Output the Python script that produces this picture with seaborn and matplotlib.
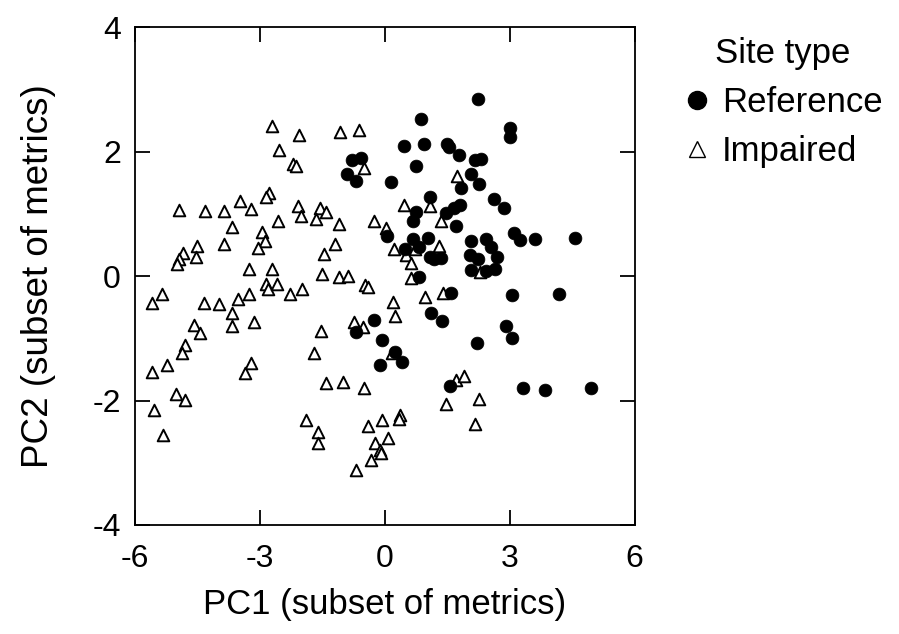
import seaborn as sns
import matplotlib.pyplot as plt
import pandas as pd
from matplotlib.lines import Line2D

# PC scores
ref_pc1 = [-0.78, -0.58, -0.90, -0.68, 0.14, 0.06, 2.24, 0.86, 3.01, 3.01,
           0.46, 0.94, 1.50, 1.54, 1.78, 2.16, 2.32, 0.76, 2.06, 2.26,
           1.82, 1.08, 2.63, 2.86, 1.80, 1.66, 1.46, 0.74, 0.68, 1.72,
           0.68, 1.04, 0.82, 0.48, 1.08, 1.18, 1.36, 2.06, 2.42, 2.54,
           3.10, 3.24, 3.60, 4.56, 2.04, 2.24, 2.70, 2.08, 2.42, 2.64,
           0.82, 1.58, 3.06, 4.18, 1.12, 1.38, -0.06, 0.24, 0.42, -0.12,
           2.90, 3.06, 2.22, 1.56, 3.32, 3.84, 4.94, -0.26, -0.70]
ref_pc2 = [1.87, 1.90, 1.64, 1.53, 1.52, 0.64, 2.85, 2.53, 2.38, 2.24,
           2.09, 2.13, 2.13, 2.08, 1.95, 1.86, 1.88, 1.77, 1.64, 1.48,
           1.42, 1.27, 1.24, 1.09, 1.15, 1.10, 1.02, 1.03, 0.88, 0.81,
           0.59, 0.62, 0.47, 0.44, 0.31, 0.27, 0.29, 0.56, 0.59, 0.47,
           0.69, 0.58, 0.59, 0.61, 0.34, 0.27, 0.31, 0.10, 0.09, 0.12,
           -0.01, -0.27, -0.31, -0.28, -0.60, -0.72, -1.03, -1.22, -1.38, -1.43,
           -0.80, -1.00, -1.08, -1.77, -1.80, -1.83, -1.80, -0.71, -0.90]

imp_pc1 = [-2.70, -2.06, -1.07, -0.62, -2.54, -2.20, -2.14, -0.50, -2.79, -2.84,
           -4.94, -4.32, -3.86, -3.47, -3.22, -2.09, -2.02, -1.55, -1.42, -1.66,
           -1.11, -0.27, 0.04, -2.57, -3.67, -2.94, -2.87, -3.05, -3.86, -4.51,
           -4.54, -4.84, -4.94, -4.99, -1.46, -1.20, -3.27, -2.71, -1.50, -1.11,
           -0.88, 1.74, 0.46, 1.08, 1.36, 0.23, 0.50, 0.62, 1.30, 0.72,
           0.64, 2.28, 0.20, 0.24, 0.96, 1.40, 1.72, 1.90, 1.46, 2.26,
           2.16, -0.06, 0.36, 0.34, 0.08, -0.24, -0.12, -0.08, 0.18, -2.84,
           -2.80, -2.58, -5.60, -5.36, -4.34, -3.98, -3.52, -3.26, -2.28, -1.98,
           -0.48, -0.40, -3.66, -3.66, -3.15, -4.58, -4.44, -4.80, -4.88, -5.24,
           -5.60, -3.20, -3.36, -5.02, -4.80, -5.54, -5.32, -1.54, -1.70, -0.74,
           -0.52, -1.40, -1.00, -0.50, -1.90, -1.60, -1.60, -0.40, -0.32, -0.68]
imp_pc2 = [2.41, 2.27, 2.32, 2.35, 2.02, 1.80, 1.77, 1.74, 1.33, 1.27,
           1.06, 1.05, 1.04, 1.20, 1.08, 1.13, 0.96, 1.10, 1.03, 0.92,
           0.83, 0.88, 0.77, 0.88, 0.79, 0.71, 0.57, 0.45, 0.51, 0.49,
           0.30, 0.37, 0.27, 0.19, 0.36, 0.51, 0.11, 0.11, 0.03, -0.01,
           0.00, 1.61, 1.14, 1.13, 0.88, 0.43, 0.34, 0.21, 0.49, 0.43,
           -0.03, 0.07, -0.41, -0.64, -0.33, -0.27, -1.67, -1.60, -2.06, -1.98,
           -2.37, -2.31, -2.23, -2.29, -2.61, -2.69, -2.80, -2.85, -1.24, -0.12,
           -0.20, -0.13, -0.43, -0.29, -0.43, -0.45, -0.36, -0.29, -0.28, -0.21,
           -0.14, -0.18, -0.60, -0.80, -0.74, -0.79, -0.92, -1.11, -1.23, -1.43,
           -1.54, -1.40, -1.56, -1.90, -1.99, -2.16, -2.55, -0.88, -1.23, -0.73,
           -0.82, -1.72, -1.71, -1.80, -2.31, -2.51, -2.68, -2.41, -2.96, -3.12]

x_ticks = [-6, -3, 0, 3, 6]
y_ticks = [-4, -2, 0, 2, 4]

df = pd.concat([
    pd.DataFrame({'PC1': ref_pc1, 'PC2': ref_pc2, 'Site type': 'Reference'}),
    pd.DataFrame({'PC1': imp_pc1, 'PC2': imp_pc2, 'Site type': 'Impaired'}),
])

sns.set_style('ticks', {'text.color': 'black', 'axes.labelcolor': 'black',
                        'xtick.color': 'black', 'ytick.color': 'black',
                        'axes.edgecolor': 'black'})
plt.rcParams['font.family'] = ['Liberation Sans', 'DejaVu Sans']
plt.rcParams['axes.unicode_minus'] = False

fig = plt.figure(figsize=(8.99, 6.34), dpi=100)
ax = fig.add_axes([0.150, 0.172, 0.556, 0.785])

sns.scatterplot(data=df[df['Site type'] == 'Impaired'], x='PC1', y='PC2',
                marker='^', s=70, facecolor='white', edgecolor='black',
                linewidth=1.4, ax=ax, legend=False)
sns.scatterplot(data=df[df['Site type'] == 'Reference'], x='PC1', y='PC2',
                marker='o', s=85, color='black', edgecolor='black',
                linewidth=0.5, ax=ax, legend=False)

ax.set_xlim(-6, 6)
ax.set_ylim(-4, 4)
ax.set_xticks(x_ticks)
ax.set_yticks(y_ticks)
ax.tick_params(direction='in', length=11, width=1.3, labelsize=23,
               top=True, right=True)
ax.tick_params(axis='x', pad=14)
ax.tick_params(axis='y', pad=10)
for sp in ax.spines.values():
    sp.set_linewidth(1.3)

ax.set_xlabel('PC1 (subset of metrics)', fontsize=25, labelpad=10)
ax.set_ylabel('PC2 (subset of metrics)', fontsize=26.5, labelpad=26)

handles = [
    Line2D([], [], marker='o', linestyle='', markersize=13,
           markerfacecolor='black', markeredgecolor='black'),
    Line2D([], [], marker='^', linestyle='', markersize=12,
           markerfacecolor='white', markeredgecolor='black', markeredgewidth=1.0),
]
leg = ax.legend(handles, ['Reference', 'Impaired'], title='Site type',
                loc='upper left', bbox_to_anchor=(1.07, 1.008), frameon=False,
                fontsize=25, title_fontsize=25, handletextpad=0.3,
                labelspacing=0.46, borderaxespad=0, handlelength=0.8)

fig.savefig('out.png', dpi=100)
